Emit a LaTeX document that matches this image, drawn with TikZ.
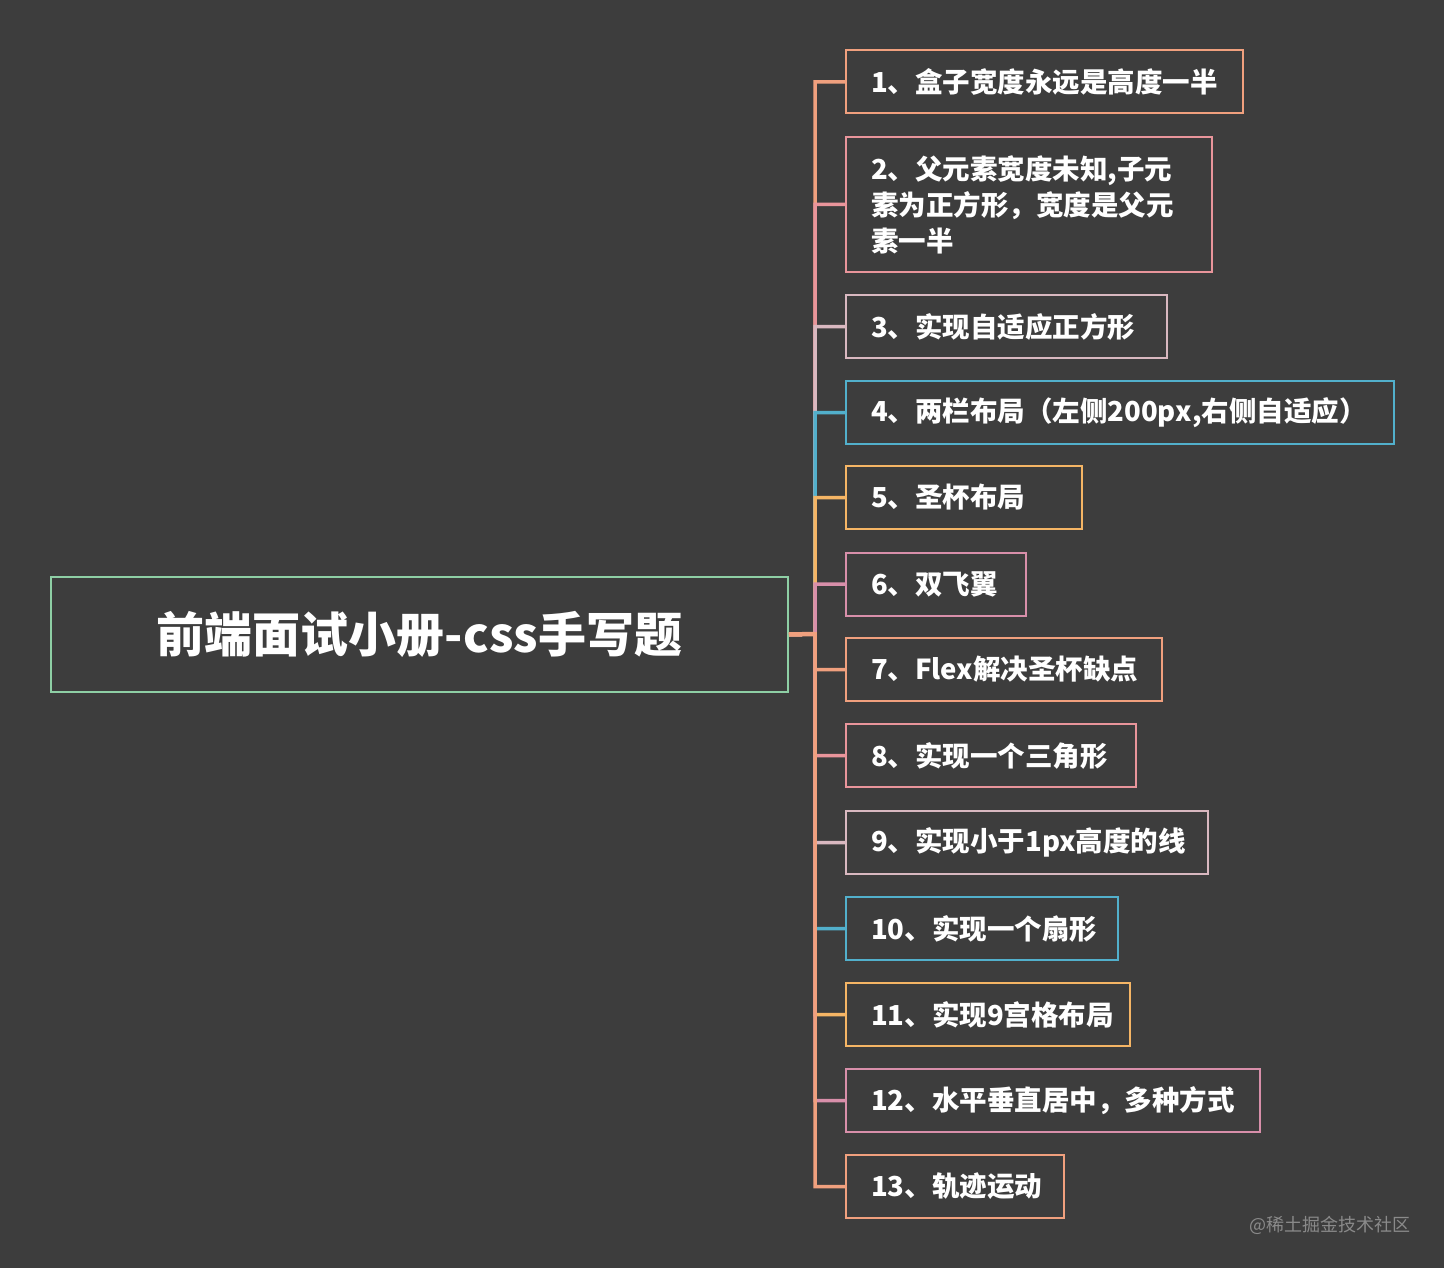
\documentclass[tikz,border=0pt]{standalone}
\usepackage{fontspec}
\setmainfont{Noto Sans CJK SC}
\newfontfamily\cjk{Noto Sans CJK SC}
\definecolor{bgc}{HTML}{3D3D3D}
\definecolor{csalmon}{HTML}{F0A07E}
\definecolor{cpink}{HTML}{E9959B}
\definecolor{clpink}{HTML}{D9B8C0}
\definecolor{cblue}{HTML}{52B0CC}
\definecolor{corange}{HTML}{F5B565}
\definecolor{cmauve}{HTML}{D88FAA}
\definecolor{cgreen}{HTML}{8ECFA5}
\definecolor{cwm}{HTML}{8A8A8A}
\tikzset{
  childbox/.style={draw=#1, line width=2pt, anchor=west, inner xsep=25pt, inner ysep=0pt,
    minimum height=63pt, align=left, text=white,
    font=\cjk\bfseries\fontsize{27.5}{36}\selectfont},
  conn/.style={draw=#1, line width=3.5pt},
}
\begin{document}
\begin{tikzpicture}[x=1pt,y=-1pt]
\fill[bgc] (0,0) rectangle (1444,1268);
\useasboundingbox (0,0) rectangle (1444,1268);

\node[draw=cgreen, line width=2pt, minimum width=737pt, minimum height=115pt, text=white,
  font=\cjk\bfseries\fontsize{48}{56}\selectfont] (root) at (419.5,634.5) {前端面试小册-css手写题};

\coordinate (j) at (815,634);

\node[childbox=csalmon, text width=347pt] (c1) at (845,82) {1、盒子宽度永远是高度一半};
\node[childbox=cpink, text width=316pt, minimum height=135pt] (c2) at (845,204.5) {2、父元素宽度未知,子元\\素为正方形，宽度是父元\\素一半};
\node[childbox=clpink, text width=271pt] (c3) at (845,326.5) {3、实现自适应正方形};
\node[childbox=cblue, text width=498pt] (c4) at (845,412.5) {4、两栏布局（左侧200px,右侧自适应）};
\node[childbox=corange, text width=186pt] (c5) at (845,497.5) {5、圣杯布局};
\node[childbox=cmauve, text width=130pt] (c6) at (845,584) {6、双飞翼};
\node[childbox=csalmon, text width=266pt] (c7) at (845,669.5) {7、Flex解决圣杯缺点};
\node[childbox=cpink, text width=240pt] (c8) at (845,755.5) {8、实现一个三角形};
\node[childbox=clpink, text width=312pt] (c9) at (845,842.5) {9、实现小于1px高度的线};
\node[childbox=cblue, text width=222pt] (c10) at (845,928.5) {10、实现一个扇形};
\node[childbox=corange, text width=234pt] (c11) at (845,1014.5) {11、实现9宫格布局};
\node[childbox=cmauve, text width=364pt] (c12) at (845,1100.5) {12、水平垂直居中，多种方式};
\node[childbox=csalmon, text width=168pt] (c13) at (845,1186.5) {13、轨迹运动};

\draw[conn=csalmon] (root.east) -- (j) |- (c1.west);
\draw[conn=cpink] (root.east) -- (j) |- (c2.west);
\draw[conn=clpink] (root.east) -- (j) |- (c3.west);
\draw[conn=cblue] (root.east) -- (j) |- (c4.west);
\draw[conn=corange] (root.east) -- (j) |- (c5.west);
\draw[conn=cmauve] (root.east) -- (j) |- (c6.west);
\draw[conn=csalmon] (root.east) -- (j) |- (c7.west);
\draw[conn=cpink] (root.east) -- (j) |- (c8.west);
\draw[conn=clpink] (root.east) -- (j) |- (c9.west);
\draw[conn=cblue] (root.east) -- (j) |- (c10.west);
\draw[conn=corange] (root.east) -- (j) |- (c11.west);
\draw[conn=cmauve] (root.east) -- (j) |- (c12.west);
\draw[conn=csalmon] (root.east) -- (j) |- (c13.west);
\draw[csalmon, line width=4.5pt] (root.east) -- (j);

\node[anchor=east, text=cwm, font=\cjk\fontsize{18}{20}\selectfont, inner sep=0pt] (wm) at (1411,1225) {@稀土掘金技术社区};
\end{tikzpicture}
\end{document}
